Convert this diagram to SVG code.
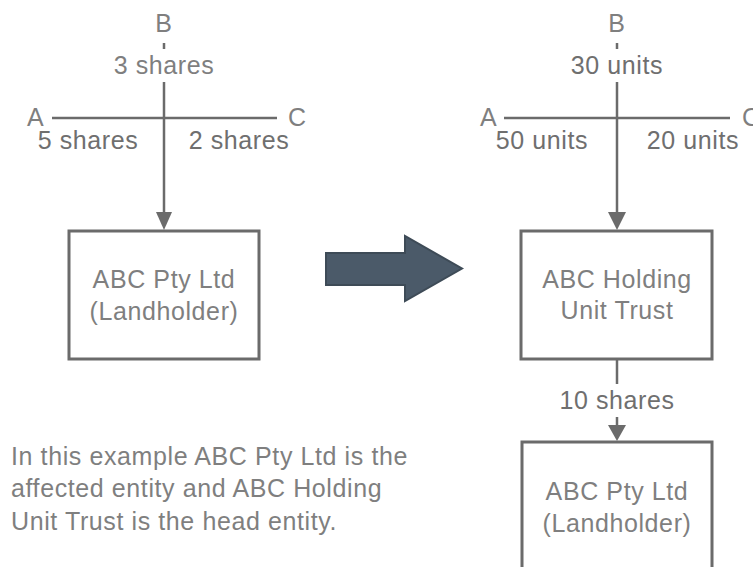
<svg xmlns="http://www.w3.org/2000/svg" width="753" height="567" viewBox="0 0 753 567">
  <style>
    text { font-family: "Liberation Sans", Arial, sans-serif; font-size: 25px; letter-spacing: 0.6px; fill: #7f7f7f; }
    .lbl { fill: #6f6f6f; }
    .mid { text-anchor: middle; }
    .line { stroke: #6b6b6b; stroke-width: 2.5; fill: none; }
    .box { stroke: #6b6b6b; stroke-width: 3; fill: #ffffff; }
    .head { fill: #6b6b6b; }
  </style>

  <rect width="753" height="567" fill="#ffffff"/>

  <!-- connectors -->
  <g id="connectors">
    <!-- left structure: shareholders into ABC Pty Ltd -->
    <line class="line" x1="164" y1="43" x2="164" y2="49"/>
    <line class="line" x1="164" y1="82" x2="164" y2="214"/>
    <line class="line" x1="52" y1="118" x2="277" y2="118"/>
    <polygon class="head" points="156,212 172,212 164,230"/>

    <!-- right structure: unitholders into the trust -->
    <line class="line" x1="617" y1="43" x2="617" y2="49"/>
    <line class="line" x1="617" y1="82" x2="617" y2="214"/>
    <line class="line" x1="504" y1="118" x2="730" y2="118"/>
    <polygon class="head" points="608,212 626,212 617,230"/>

    <!-- trust into ABC Pty Ltd -->
    <line class="line" x1="617" y1="360" x2="617" y2="384"/>
    <line class="line" x1="617" y1="417" x2="617" y2="427"/>
    <polygon class="head" points="608,425 626,425 617,441"/>

    <!-- transition arrow -->
    <polygon points="326,253 405,253 405,236 462,268.5 405,301 405,285 326,285" fill="#4b5a69" stroke="#3e4b57" stroke-width="2" stroke-linejoin="miter"/>
  </g>

  <!-- edge labels -->
  <g id="labels-left">
    <text class="mid" x="164" y="32">B</text>
    <text class="mid" x="164" y="74">3 shares</text>
    <text x="27" y="126">A</text>
    <text x="288" y="126">C</text>
    <text class="mid lbl" x="88" y="149">5 shares</text>
    <text class="mid lbl" x="239" y="149">2 shares</text>
  </g>

  <g id="labels-right">
    <text class="mid" x="617" y="32">B</text>
    <text class="mid lbl" x="617" y="74">30 units</text>
    <text x="480" y="126">A</text>
    <text x="742" y="126">C</text>
    <text class="mid lbl" x="542" y="149">50 units</text>
    <text class="mid lbl" x="693" y="149">20 units</text>
    <text class="mid lbl" x="617" y="409">10 shares</text>
  </g>

  <!-- nodes -->
  <g id="landholder-before">
    <rect class="box" x="69" y="231" width="190" height="128"/>
    <text class="mid" x="164" y="288">ABC Pty Ltd</text>
    <text class="mid" x="164" y="320">(Landholder)</text>
  </g>

  <g id="holding-trust">
    <rect class="box" x="521" y="231" width="191" height="128"/>
    <text class="mid" x="617" y="288">ABC Holding</text>
    <text class="mid" x="617" y="319">Unit Trust</text>
  </g>

  <g id="landholder-after">
    <rect class="box" x="522" y="442" width="190" height="140"/>
    <text class="mid" x="617" y="500">ABC Pty Ltd</text>
    <text class="mid" x="617" y="532">(Landholder)</text>
  </g>

  <!-- explanatory note -->
  <g id="note">
    <text x="11" y="465">In this example ABC Pty Ltd is the</text>
    <text x="11" y="497">affected entity and ABC Holding</text>
    <text x="11" y="530">Unit Trust is the head entity.</text>
  </g>
</svg>
